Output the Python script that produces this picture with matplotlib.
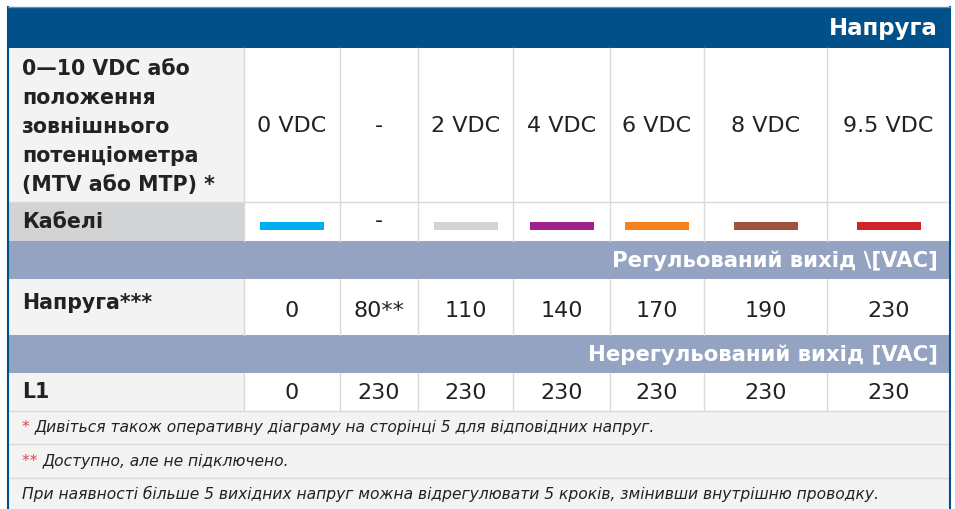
import matplotlib
matplotlib.use("Agg")
import matplotlib.pyplot as plt
from matplotlib.patches import Rectangle

plt.rcParams['font.family'] = ['DejaVu Sans']

# ---- data ----
title = "Напруга"
row1_label = "0—10 VDC або\nположення\nзовнішнього\nпотенціометра\n(MTV або MTP) *"
control_values = ["0 VDC", "-", "2 VDC", "4 VDC", "6 VDC", "8 VDC", "9.5 VDC"]
cable_label = "Кабелі"
cable_colors = ["#00aeef", None, "#d1d3d4", "#a0228c", "#f5821f", "#a0523f", "#d2232a"]
regulated_title = "Регульований вихід \\[VAC]"
regulated_label = "Напруга***"
regulated_values = ["0", "80**", "110", "140", "170", "190", "230"]
unregulated_title = "Нерегульований вихід [VAC]"
unregulated_label = "L1"
unregulated_values = ["0", "230", "230", "230", "230", "230", "230"]
footnotes = [("* ", "Дивіться також оперативну діаграму на сторінці 5 для відповідних напруг."),
             ("** ", "Доступно, але не підключено."),
             ("", "При наявності більше 5 вихідних напруг можна відрегулювати 5 кроків, змінивши внутрішню проводку.")]

# ---- layout ----
W, H = 955, 509
fig = plt.figure(figsize=(W / 100, H / 100), dpi=100)
ax = fig.add_axes([0, 0, 1, 1])
ax.set_xlim(0, W)
ax.set_ylim(H, 0)
ax.axis('off')

DARK = "#02508a"
BAND = "#94a3c1"
LIGHT = "#f3f3f3"
GRID = "#d9d9d9"
TXT = "#222222"

L, R = 8, 950
col_edges = [244, 340, 418, 513, 610, 704, 827, 950]
rows = {'head': (7, 48), 'r1': (48, 202), 'cab': (202, 241), 'b1': (241, 279),
        'reg': (279, 335), 'b2': (335, 373), 'l1': (373, 411),
        'f1': (411, 444), 'f2': (444, 478), 'f3': (478, 512)}

def rect(x0, y0, x1, y1, color, z=1):
    ax.add_patch(Rectangle((x0, y0), x1 - x0, y1 - y0, facecolor=color, edgecolor='none', zorder=z))

# backgrounds
ax.add_patch(Rectangle((L, 7), R - L, H, facecolor='white', edgecolor='none', zorder=0))
rect(L, rows['head'][0], R, rows['head'][1], DARK)
rect(L, rows['b1'][0], R, rows['b1'][1], BAND)
rect(L, rows['b2'][0], R, rows['b2'][1], BAND)
for key in ('r1', 'reg', 'l1'):
    rect(L, rows[key][0], col_edges[0], rows[key][1], LIGHT)
rect(L, rows['cab'][0], col_edges[0], rows['cab'][1], "#d1d3d4")
for key in ('f1', 'f2', 'f3'):
    rect(L, rows[key][0], R, rows[key][1], LIGHT)

# grid lines
for key in ('r1', 'cab', 'reg', 'l1'):
    y0, y1 = rows[key]
    for x in col_edges[:-1]:
        ax.plot([x, x], [y0, y1], color=GRID, lw=1, zorder=2)
for y in (rows['cab'][0], rows['f1'][0], rows['f2'][0], rows['f3'][0]):
    ax.plot([L, R], [y, y], color=GRID, lw=1, zorder=2)
ax.plot([L, L], [7, H], color=DARK, lw=1.5, zorder=3)
ax.plot([R, R], [7, H], color=DARK, lw=1.5, zorder=3)
ax.plot([L, R], [7, 7], color="#6d8fb3", lw=1, zorder=3)

# header texts
ax.text(938, 28, title, color='white', fontsize=16.5, fontweight='bold', ha='right', va='center')
ax.text(938, 261, regulated_title, color='white', fontsize=15.3, fontweight='bold', ha='right', va='center')
ax.text(938, 355, unregulated_title, color='white', fontsize=15.3, fontweight='bold', ha='right', va='center')

# row labels
ax.text(22, 127, row1_label, color=TXT, fontsize=14.8, fontweight='bold', ha='left', va='center',
        linespacing=1.55)
ax.text(22, 222, cable_label, color=TXT, fontsize=14.8, fontweight='bold', ha='left', va='center')
ax.text(22, 303, regulated_label, color=TXT, fontsize=14.8, fontweight='bold', ha='left', va='center')
ax.text(22, 392, unregulated_label, color=TXT, fontsize=14.8, fontweight='bold', ha='left', va='center')

centers = [(col_edges[i] + col_edges[i + 1]) / 2 for i in range(7)]
for cx, v in zip(centers, control_values):
    ax.text(cx, 126, v, color=TXT, fontsize=16, ha='center', va='center')
for cx, c in zip(centers, cable_colors):
    if c is None:
        ax.text(cx, 221, "-", color=TXT, fontsize=16, ha='center', va='center')
    else:
        rect(cx - 32, 222, cx + 32, 230, c, z=3)
for cx, v in zip(centers, regulated_values):
    ax.text(cx, 311, v, color=TXT, fontsize=16, ha='center', va='center')
for cx, v in zip(centers, unregulated_values):
    ax.text(cx, 393, v, color=TXT, fontsize=16, ha='center', va='center')

# footnotes
for key, (mark, txt) in zip(('f1', 'f2', 'f3'), footnotes):
    yc = (rows[key][0] + min(rows[key][1], H)) / 2
    x = 22
    if mark:
        t = ax.text(x, yc, mark, color="#e0404a", fontsize=11.15, style='italic', ha='left', va='center')
        fig.canvas.draw()
        bb = t.get_window_extent()
        x = x + bb.width
    ax.text(x, yc, txt, color=TXT, fontsize=11.15, style='italic', ha='left', va='center')

fig.savefig("out.png", dpi=100)
